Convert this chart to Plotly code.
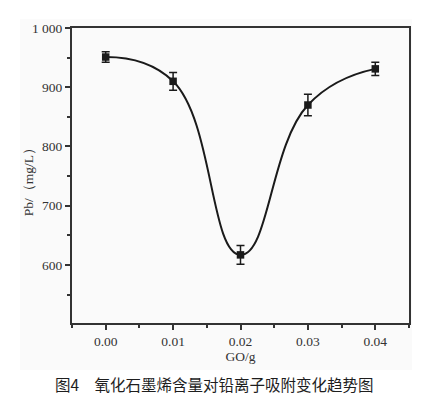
import plotly.graph_objects as go

go_mass = [0.00, 0.01, 0.02, 0.03, 0.04]
pb_conc = [951, 910, 617, 870, 931]
pb_err = [9, 15, 16, 18, 11]

y_tickvals = [600, 700, 800, 900, 1000]
y_ticktext = ["600", "700", "800", "900", "1 000"]
x_tickvals = [0.00, 0.01, 0.02, 0.03, 0.04]
x_ticktext = ["0.00", "0.01", "0.02", "0.03", "0.04"]

fig = go.Figure()
fig.add_trace(go.Scatter(
    x=go_mass, y=pb_conc, mode="lines",
    line=dict(shape="spline", smoothing=1.3, color="#1a1a1a", width=2),
    hoverinfo="skip", showlegend=False))
fig.add_trace(go.Scatter(
    x=go_mass, y=pb_conc, mode="markers",
    marker=dict(symbol="square", size=7.5, color="#1a1a1a"),
    error_y=dict(type="data", array=pb_err, visible=True, color="#1a1a1a",
                 thickness=1.5, width=4),
    showlegend=False))

serif = "Liberation Serif, Times New Roman, serif"
fig.update_layout(
    width=435, height=396,
    margin=dict(l=72, r=26, t=28, b=73),
    paper_bgcolor="white", plot_bgcolor="#fafafa",
    font=dict(family=serif, size=13.5, color="#333"),
    shapes=[dict(type="rect", xref="paper", yref="paper", x0=-0.154, x1=1.009,
                 y0=-0.159, y1=1.03, fillcolor="#fafafa", line_width=0, layer="below")],
    xaxis=dict(range=[-0.005, 0.045], tickvals=x_tickvals, ticktext=x_ticktext,
               ticks="outside", ticklen=5, tickwidth=2, tickcolor="#333",
               minor=dict(tickvals=[-0.005, 0.005, 0.015, 0.025, 0.035, 0.045], ticks="outside",
                          ticklen=3, tickwidth=2, tickcolor="#333"),
               showline=True, linewidth=2, linecolor="#333", mirror=True,
               showgrid=False, zeroline=False,
               title=dict(text="GO/g", font=dict(family=serif, size=13.5, color="#333"), standoff=3)),
    yaxis=dict(range=[502, 1000], tickvals=y_tickvals, ticktext=y_ticktext,
               ticks="outside", ticklen=5, tickwidth=2, tickcolor="#333",
               minor=dict(tickvals=[550, 650, 750, 850, 950], ticks="outside",
                          ticklen=3, tickwidth=2, tickcolor="#333"),
               showline=True, linewidth=2, linecolor="#333", mirror=True,
               showgrid=False, zeroline=False),
    annotations=[
        dict(text="Pb/（mg/L）", xref="paper", yref="paper", x=-0.128, y=0.49,
             xanchor="center", yanchor="middle", textangle=-90, showarrow=False,
             font=dict(family=serif, size=13.5, color="#333")),
        dict(text="图4　氧化石墨烯含量对铅离子吸附变化趋势图", xref="paper", yref="paper",
             x=0.424, y=-0.207, xanchor="center", yanchor="middle", showarrow=False,
             font=dict(family="Noto Sans CJK SC", size=15.5, color="#1e1e1e")),
    ],
)
fig.write_html("out.html", post_script="document.body.style.margin='0';",
               config={"displayModeBar": False})
